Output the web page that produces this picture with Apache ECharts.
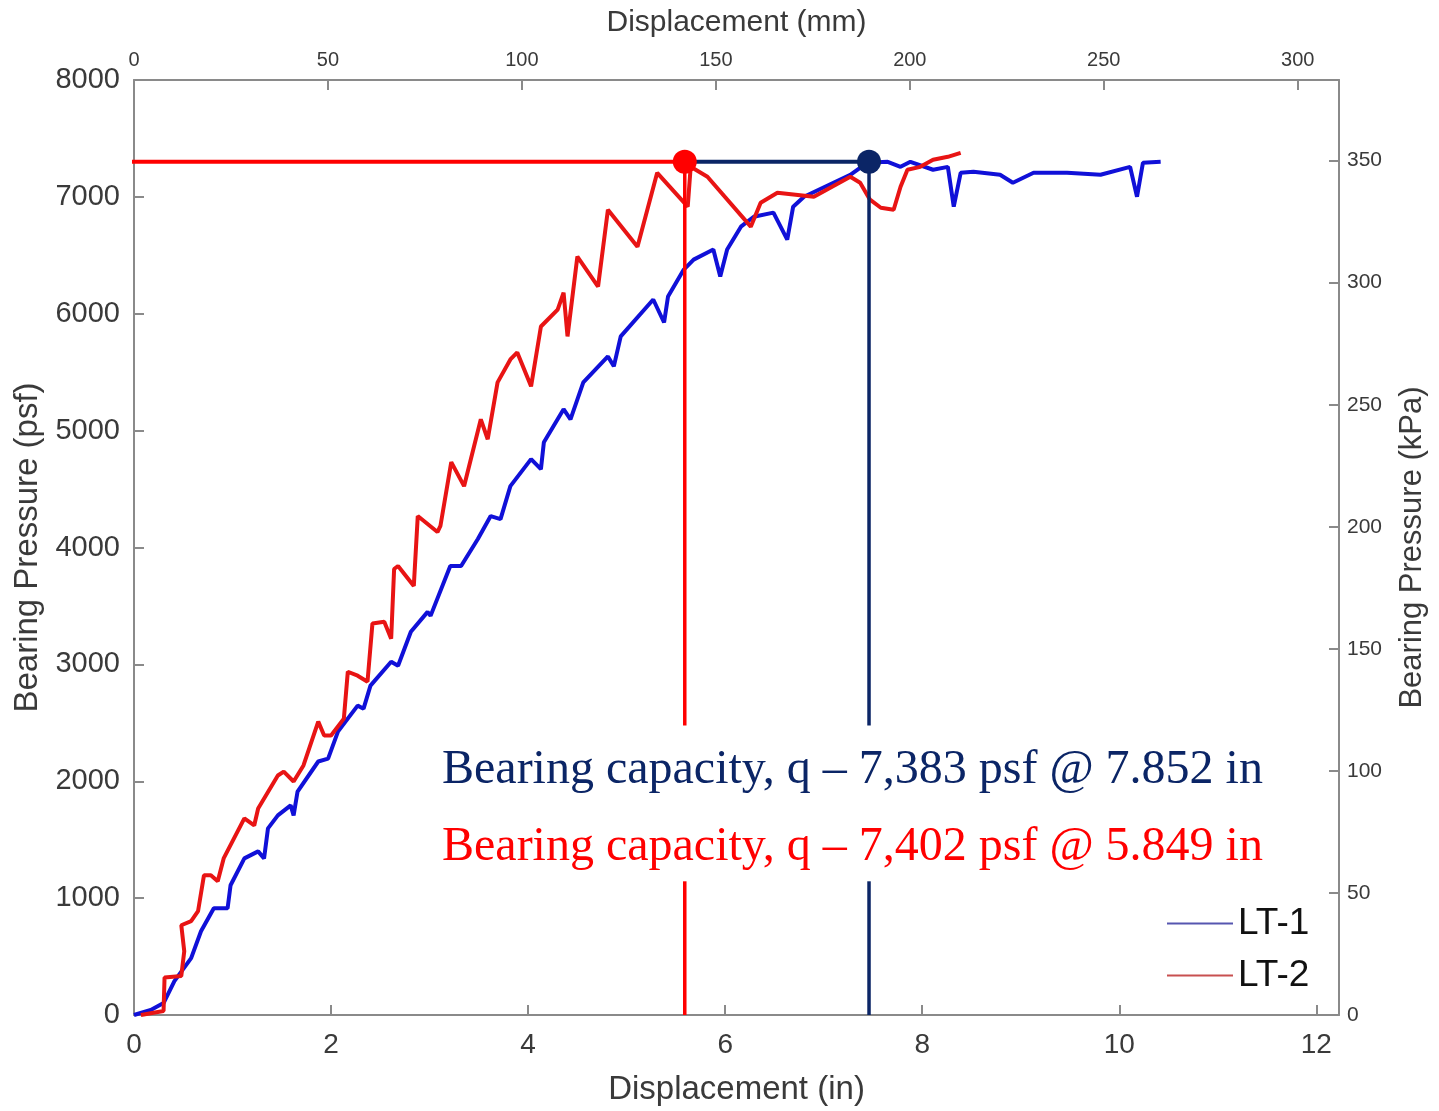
<!DOCTYPE html>
<html>
<head>
<meta charset="utf-8">
<script src="https://cdn.jsdelivr.net/npm/echarts@6/dist/echarts.min.js"></script>
<style>
  html, body { margin: 0; padding: 0; background: #fff; }
  #chart { width: 1439px; height: 1111px; }
</style>
</head>
<body>
<div id="chart"></div>
<script>
// LT-1 (blue) displacement in inches / bearing pressure psf
const lt1Disp = [0, 0.17, 0.30, 0.41, 0.58, 0.68, 0.81, 0.95, 0.98, 1.12, 1.26, 1.32, 1.36, 1.46, 1.59, 1.62, 1.66,
  1.87, 1.97, 2.07, 2.27, 2.33, 2.40, 2.61, 2.68, 2.81, 2.98, 3.01, 3.21, 3.32, 3.49, 3.62, 3.72, 3.82, 4.03, 4.13,
  4.16, 4.36, 4.43, 4.56, 4.81, 4.87, 4.94, 5.27, 5.38, 5.42, 5.58, 5.68, 5.88, 5.95, 6.02, 6.16, 6.29, 6.49, 6.63,
  6.69, 6.80, 7.27, 7.44, 7.65, 7.78, 7.88, 8.11, 8.26, 8.32, 8.39, 8.52, 8.79, 8.92, 9.13, 9.47, 9.81, 10.11, 10.18,
  10.24, 10.42];
const lt1Press = [0, 43, 102, 290, 487, 717, 914, 914, 1110, 1340, 1400, 1340, 1597, 1708, 1793, 1708, 1912,
  2169, 2194, 2425, 2647, 2621, 2818, 3022, 2988, 3279, 3449, 3415, 3842, 3842, 4073, 4269, 4243, 4525, 4756, 4670,
  4901, 5183, 5097, 5413, 5635, 5550, 5806, 6122, 5925, 6147, 6378, 6463, 6549, 6318, 6549, 6745, 6830, 6865, 6634,
  6916, 7001, 7189, 7291, 7300, 7257, 7300, 7232, 7257, 6916, 7206, 7215, 7189, 7121, 7206, 7206, 7189, 7257, 7001,
  7291, 7300];

// LT-2 (red)
const lt2Disp = [0.07, 0.30, 0.31, 0.48, 0.51, 0.48, 0.58, 0.65, 0.71, 0.78, 0.85, 0.91, 1.12, 1.22, 1.26, 1.46,
  1.52, 1.62, 1.72, 1.87, 1.93, 2.00, 2.13, 2.17, 2.27, 2.37, 2.42, 2.54, 2.61, 2.64, 2.68, 2.84, 2.88, 3.08, 3.11,
  3.22, 3.35, 3.52, 3.59, 3.69, 3.82, 3.89, 4.03, 4.13, 4.30, 4.36, 4.40, 4.50, 4.71, 4.81, 5.11, 5.31, 5.62, 5.65,
  5.82, 6.26, 6.36, 6.53, 6.90, 7.27, 7.37, 7.47, 7.58, 7.71, 7.78, 7.85, 7.98, 8.11, 8.26, 8.39];
const lt2Press = [0, 34, 320, 333, 546, 768, 803, 888, 1195, 1195, 1144, 1340, 1682, 1622, 1767, 2049,
  2083, 1998, 2135, 2510, 2391, 2391, 2536, 2937, 2903, 2852, 3350, 3364, 3219, 3816, 3842, 3671, 4269, 4132, 4184,
  4730, 4525, 5097, 4926, 5413, 5609, 5669, 5379, 5891, 6036, 6181, 5806, 6489, 6233, 6890, 6574, 7206, 6916, 7257,
  7172, 6745, 6950, 7035, 7001, 7172, 7121, 6976, 6907, 6890, 7087, 7232, 7257, 7317, 7343, 7377];

// capacity markers as drawn on the figure
const capLevel = 7300;
const capRedX = 5.59;
const capBlueX = 7.46;
const leaderStartX = -0.06;
const gapTop = 2476;
const gapBottom = 1144;

const xTicksIn = [0, 2, 4, 6, 8, 10, 12];
const xMaxIn = 12.23;
const yTicksPsf = [0, 1000, 2000, 3000, 4000, 5000, 6000, 7000, 8000];
const psfToKpa = 0.04788;

const capTexts = [
  'Bearing capacity, q \u2013 7,383 psf @ 7.852 in',
  'Bearing capacity, q \u2013 7,402 psf @ 5.849 in'
];

const pairs = (xs, ys) => xs.map((x, i) => [x, ys[i]]);

const chart = echarts.init(document.getElementById('chart'));

const axisGrey = '#8a8a8a';
const textGrey = '#3a3a3a';
const sans = 'Liberation Sans, Arial, sans-serif';
const serif = 'Liberation Serif, Times New Roman, serif';
const navy = '#0b2566';
const red = '#ff0000';

function frameAxis(extra) {
  return Object.assign({
    type: 'value',
    axisLine: { show: true, onZero: false, lineStyle: { color: axisGrey, width: 2 } },
    axisTick: { show: true, inside: true, length: 10, lineStyle: { color: axisGrey, width: 2 } },
    splitLine: { show: false }
  }, extra);
}

const option = {
  backgroundColor: '#fff',
  animation: false,
  grid: { left: 134, right: 100, top: 80, bottom: 94 },
  legend: {
    orient: 'vertical',
    left: 1162,
    top: 900,
    itemWidth: 66,
    itemHeight: 2,
    itemGap: 15,
    icon: 'rect',
    textStyle: { fontFamily: sans, fontSize: 37, color: '#111' },
    data: [
      { name: 'LT-1', itemStyle: { color: '#5656b0' } },
      { name: 'LT-2', itemStyle: { color: '#c85050' } }
    ]
  },
  xAxis: [
    frameAxis({
      position: 'bottom',
      min: 0, max: xMaxIn, interval: 2,
      name: 'Displacement (in)',
      nameLocation: 'middle', nameGap: 58,
      nameTextStyle: { fontFamily: sans, fontSize: 33, color: textGrey },
      axisLabel: {
        fontFamily: sans, fontSize: 28, color: textGrey, margin: 16,
        formatter: v => xTicksIn.includes(v) ? String(v) : ''
      }
    }),
    frameAxis({
      position: 'top',
      min: 0, max: xMaxIn * 25.4, interval: 50,
      name: 'Displacement (mm)',
      nameLocation: 'middle', nameGap: 42,
      nameTextStyle: { fontFamily: sans, fontSize: 30, color: textGrey },
      axisLabel: {
        fontFamily: sans, fontSize: 20, color: textGrey, margin: 10,
        formatter: v => v % 50 === 0 ? String(v) : ''
      }
    })
  ],
  yAxis: [
    frameAxis({
      position: 'left',
      min: 0, max: 8000, interval: 1000,
      name: 'Bearing Pressure (psf)',
      nameLocation: 'middle', nameGap: 87, nameRotate: 90,
      nameTextStyle: { fontFamily: sans, fontSize: 33, color: textGrey },
      axisLabel: {
        fontFamily: sans, fontSize: 29, color: textGrey, margin: 14,
        formatter: v => yTicksPsf.includes(v) ? String(v) : ''
      }
    }),
    frameAxis({
      position: 'right',
      min: 0, max: 8000 * psfToKpa, interval: 50,
      name: 'Bearing Pressure (kPa)',
      nameLocation: 'middle', nameGap: 58, nameRotate: 90,
      nameTextStyle: { fontFamily: sans, fontSize: 31, color: textGrey },
      axisLabel: {
        fontFamily: sans, fontSize: 21, color: textGrey, margin: 8,
        formatter: v => v % 50 === 0 ? String(v) : ''
      }
    })
  ],
  series: [
    {
      name: 'LT-1', type: 'line', showSymbol: false, color: '#1010d8',
      lineStyle: { width: 4, color: '#1010d8' },
      data: pairs(lt1Disp, lt1Press), z: 2
    },
    {
      name: 'LT-2', type: 'line', showSymbol: false, color: '#e81414',
      lineStyle: { width: 4, color: '#e81414' },
      data: pairs(lt2Disp, lt2Press), z: 3
    },
    {
      name: 'capBlueH', type: 'line', showSymbol: false, clip: false, z: 4,
      lineStyle: { width: 4, color: navy },
      data: [[capRedX, capLevel], [capBlueX, capLevel]]
    },
    {
      name: 'capBlueV1', type: 'line', showSymbol: false, clip: false, z: 4,
      lineStyle: { width: 3.5, color: navy },
      data: [[capBlueX, capLevel], [capBlueX, gapTop]]
    },
    {
      name: 'capBlueV2', type: 'line', showSymbol: false, clip: false, z: 4,
      lineStyle: { width: 3.5, color: navy },
      data: [[capBlueX, gapBottom], [capBlueX, 0]]
    },
    {
      name: 'capRedH', type: 'line', showSymbol: false, clip: false, z: 5,
      lineStyle: { width: 4, color: red },
      data: [[leaderStartX, capLevel], [capRedX, capLevel]]
    },
    {
      name: 'capRedV1', type: 'line', showSymbol: false, clip: false, z: 5,
      lineStyle: { width: 3.5, color: red },
      data: [[capRedX, capLevel], [capRedX, gapTop]]
    },
    {
      name: 'capRedV2', type: 'line', showSymbol: false, clip: false, z: 5,
      lineStyle: { width: 3.5, color: red },
      data: [[capRedX, gapBottom], [capRedX, 0]]
    },
    {
      name: 'capPoints', type: 'scatter', symbolSize: 24, z: 6, clip: false,
      data: [
        { value: [capRedX, capLevel], itemStyle: { color: red, opacity: 1 } },
        { value: [capBlueX, capLevel], itemStyle: { color: navy, opacity: 1 } }
      ]
    }
  ],
  graphic: [
    {
      type: 'text', left: 442, top: 746, z: 10,
      style: { text: capTexts[0], fill: navy, font: '48px ' + serif }
    },
    {
      type: 'text', left: 442, top: 823, z: 10,
      style: { text: capTexts[1], fill: red, font: '48px ' + serif }
    }
  ]
};

chart.setOption(option);
</script>
</body>
</html>
